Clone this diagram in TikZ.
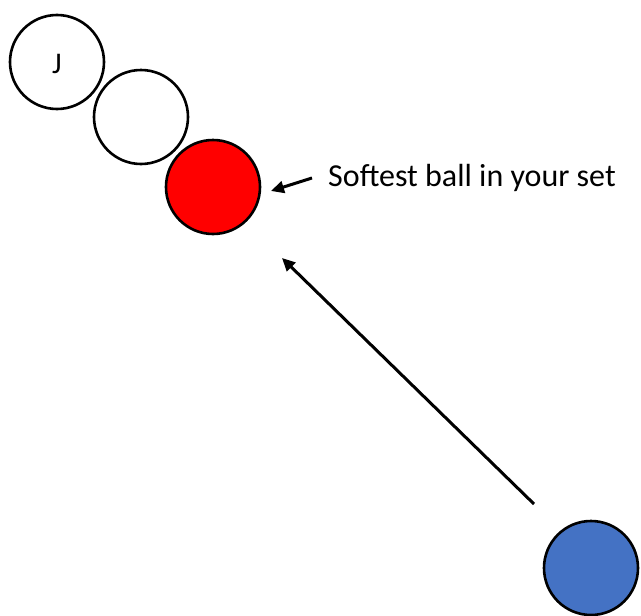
\documentclass[tikz,border=0pt]{standalone}
\usepackage{fontspec}
\setmainfont{Carlito}
\usetikzlibrary{arrows.meta}
\definecolor{ballred}{HTML}{FF0000}
\definecolor{ballblue}{HTML}{4472C4}
\tikzset{
  ball/.style={circle, draw=black, line width=2.6pt, minimum size=94pt, inner sep=0pt},
  pointer/.style={line width=3pt, -{Triangle[length=13pt,width=12pt]}}
}
\begin{document}
\begin{tikzpicture}[x=1pt, y=-1pt]
  \useasboundingbox (0,0) rectangle (641,616);
  % row of balls
  \node[ball, fill=white] (jball) at (57,62) {};
  \node[font=\fontsize{30}{33}\selectfont] (jlabel) at (57,64) {J};
  \node[ball, fill=white] (mid) at (141,117) {};
  \node[ball, fill=ballred] (red) at (213,187) {};
  \node[ball, fill=ballblue] (blue) at (591,568) {};
  % caption for the red ball
  \node[anchor=base west, inner sep=0pt, font=\fontsize{32}{35}\selectfont] (caption) at (328,186) {Softest ball in your set};
  % pointer ends
  \coordinate (capstart) at (312,178);
  \coordinate (capend) at (271,191);
  \coordinate (shotstart) at (534,504);
  \coordinate (shotend) at (282,258);
  \draw[pointer] (capstart) -- (capend);
  \draw[pointer] (shotstart) -- (shotend);
\end{tikzpicture}
\end{document}
